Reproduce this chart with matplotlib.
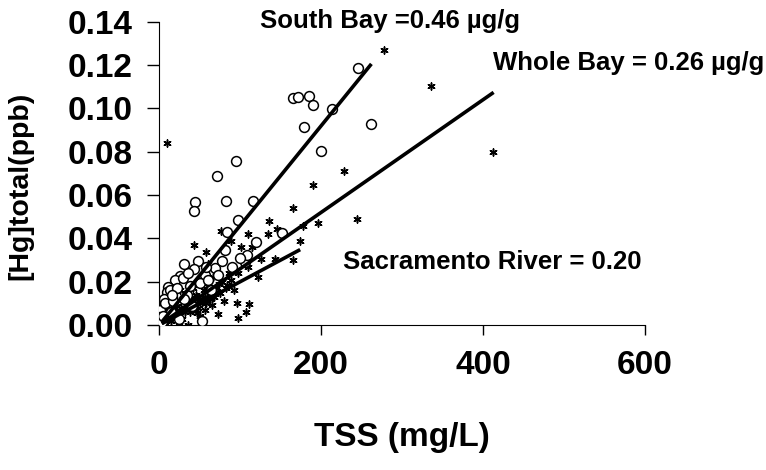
import numpy as np
import matplotlib
matplotlib.use("Agg")
import matplotlib.pyplot as plt

plt.rcParams['font.family'] = ['Liberation Sans', 'DejaVu Sans']
plt.rcParams['font.weight'] = 'bold'

# South Bay samples (circles): TSS mg/L, Hg ppb
sb_tss = [245.6, 164.7, 171.6, 185.2, 190.1, 212.8, 179.0, 261.4, 199.3, 94.3,
          70.9, 44.1, 43.2, 82.0, 115.3, 96.8, 84.0, 119.4, 152.0, 81.0,
          105.8, 107.9, 48.1, 68.8, 77.0, 43.2, 56.4, 25.6, 19.4, 29.6,
          11.1, 9.9, 33.8, 6.3, 0.9, 0.0, 24.7, 52.3, 3.3, 50.2,
          13.2, 7.0, 38.0, 60.0, 64.0, 30.0, 17.0, 22.0, 36.0, 40.0,
          58.0, 72.0, 14.0, 90.0, 100.0, 30.0, 16.0, 5.0]
sb_hg = [0.1185, 0.1046, 0.1054, 0.1057, 0.1015, 0.0999, 0.0915, 0.0930, 0.0802, 0.0756,
         0.0690, 0.0568, 0.0528, 0.0574, 0.0571, 0.0486, 0.0429, 0.0383, 0.0424, 0.0345,
         0.0293, 0.0324, 0.0295, 0.0265, 0.0295, 0.0257, 0.0231, 0.0224, 0.0208, 0.0216,
         0.0177, 0.0154, 0.0139, 0.0119, 0.0069, 0.0038, 0.0027, 0.0018, 0.0015, 0.0193,
         0.0162, 0.0100, 0.0180, 0.0210, 0.0160, 0.0120, 0.0110, 0.0170, 0.0240, 0.0090,
         0.0270, 0.0230, 0.0060, 0.0270, 0.0310, 0.0280, 0.0140, 0.0040]

# other samples (asterisks)
ot_tss = [277.8, 335.4, 9.1, 228.4, 190.1, 164.7, 243.7, 195.5, 177.0, 135.8,
          144.9, 134.6, 76.2, 109.1, 173.7, 43.2, 57.7, 88.5, 100.9, 125.6,
          142.8, 165.4, 109.1, 96.8, 121.5, 83.2, 95.5, 111.1, 107.0, 96.8,
          72.1, 53.6, 35.0, 7.2, 64.7, 62.6, 72.8, 46.2, 412.3,
          20, 25, 30, 35, 40, 45, 50, 55, 60, 28,
          15, 10, 38, 48, 58, 68, 78, 66, 52, 42,
          33, 22, 12, 86, 92, 70, 80, 18, 26, 115, 60,
          5, 8, 14, 17, 23, 27, 32, 37, 44, 47,
          53, 57, 63, 67, 74, 82, 88, 31, 41, 36,
          24, 19, 62, 75, 50, 12, 44, 56]
ot_hg = [0.1268, 0.1103, 0.0838, 0.0713, 0.0644, 0.0540, 0.0489, 0.0471, 0.0458, 0.0478,
         0.0444, 0.0420, 0.0432, 0.0420, 0.0386, 0.0367, 0.0336, 0.0389, 0.0358, 0.0304,
         0.0304, 0.0301, 0.0270, 0.0239, 0.0221, 0.0185, 0.0103, 0.0097, 0.0062, 0.0031,
         0.0050, 0.0008, 0.0000, 0.0000, 0.0093, 0.0131, 0.0154, 0.0054, 0.0798,
         0.004, 0.006, 0.008, 0.010, 0.012, 0.014, 0.012, 0.016, 0.018, 0.003,
         0.002, 0.005, 0.006, 0.008, 0.010, 0.013, 0.020, 0.022, 0.020, 0.017,
         0.013, 0.009, 0.003, 0.024, 0.016, 0.017, 0.011, 0.012, 0.016, 0.036, 0.028,
         0.001, 0.003, 0.004, 0.006, 0.005, 0.008, 0.006, 0.009, 0.010, 0.013,
         0.010, 0.013, 0.015, 0.016, 0.019, 0.017, 0.021, 0.011, 0.007, 0.015,
         0.001, 0.008, 0.012, 0.015, 0.004, 0.008, 0.019, 0.007]

# regression slopes (ug/g) and TSS range of each line
fit_names = ['South Bay', 'Whole Bay', 'Sacramento River']
fit_slopes = [0.46, 0.26, 0.20]
fit_xmax = [262, 413, 174]

fig = plt.figure(figsize=(7.66, 4.70), dpi=100)
ax = fig.add_axes([0.208, 0.3085, 0.634, 0.6453])

ax.scatter(ot_tss, ot_hg, marker=(6, 2, 0), s=26, color='black', linewidths=1.1, zorder=3)
ax.scatter(sb_tss, sb_hg, marker='o', s=50, facecolors='white', edgecolors='black',
           linewidths=1.1, zorder=4)

for slope, xmax in zip(fit_slopes, fit_xmax):
    xs = np.array([3, xmax])
    ax.plot(xs, slope * xs / 1000, color='black', lw=2.6, zorder=5, solid_capstyle='butt')

ax.set_xlim(0, 600)
ax.set_ylim(0, 0.14)
ax.set_xticks([0, 200, 400, 600])
ax.set_yticks(np.arange(0, 0.141, 0.02))
ax.set_yticklabels([f'{v:.2f}' for v in np.arange(0, 0.141, 0.02)])
ax.spines['top'].set_visible(False)
ax.spines['right'].set_visible(False)
ax.tick_params(axis='y', direction='out', length=9, width=1, pad=10, labelsize=24)
ax.tick_params(axis='x', direction='out', length=7, width=1, pad=11, labelsize=24)

ax.set_xlabel('TSS (mg/L)', fontsize=24, fontweight='bold')
ax.xaxis.set_label_coords(0.5, -0.32)
ax.set_ylabel('[Hg]total(ppb)', fontsize=20.5, fontweight='bold')
ax.yaxis.set_label_coords(-0.26, 0.46)

ax.text(124, 0.1403, 'South Bay =0.46 µg/g', fontsize=18.5, fontweight='bold',
        va='center', ha='left', clip_on=False)
ax.text(412, 0.1208, 'Whole Bay = 0.26 µg/g', fontsize=18.5, fontweight='bold',
        va='center', ha='left', clip_on=False)
ax.text(227, 0.0292, 'Sacramento River = 0.20', fontsize=18.5, fontweight='bold',
        va='center', ha='left', clip_on=False)

fig.savefig('out.png', dpi=100)
